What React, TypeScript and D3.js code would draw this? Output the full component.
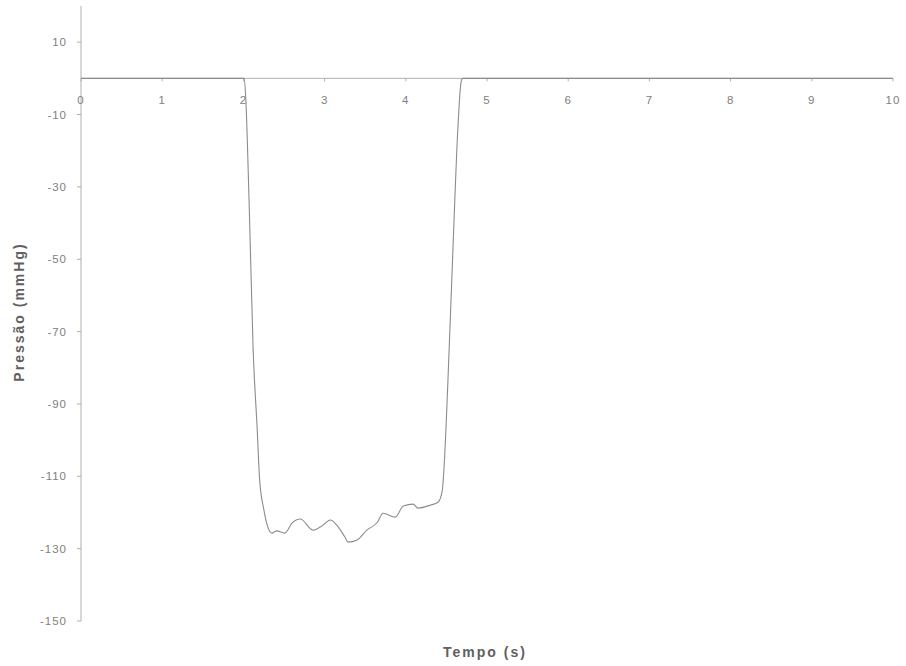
import React from 'react';
import * as d3 from 'd3';

// pressure trace
const tempo = [0, 1, 2, 2.01, 2.03, 2.07, 2.12, 2.17, 2.2, 2.25, 2.3, 2.35, 2.41, 2.51, 2.6, 2.7, 2.86, 2.98, 3.07, 3.15, 3.25, 3.29, 3.4, 3.52, 3.65, 3.72, 3.87, 3.97, 4.09, 4.15, 4.3, 4.4, 4.45, 4.47, 4.52, 4.58, 4.64, 4.68, 4.7, 6, 8, 10];
const pressao = [0, 0, 0, 0, -6, -34, -75, -97, -111, -119, -124, -125.7, -125.1, -125.7, -122.9, -121.8, -124.9, -123.5, -122.1, -123.5, -126.8, -128.2, -127.6, -124.9, -122.7, -120.2, -121.3, -118.2, -117.7, -118.8, -118, -117.1, -113.8, -108, -83, -47.5, -14.4, -1.1, 0, 0, 0, 0];

const xTicks = [0, 1, 2, 3, 4, 5, 6, 7, 8, 9, 10];
const yTicks = [10, -10, -30, -50, -70, -90, -110, -130, -150];

const W = 906;
const H = 666;

export default function App() {
  const x = d3.scaleLinear().domain([0, 10]).range([81, 893]);
  const y = d3.scaleLinear().domain([-150, 20]).range([621, 6]);

  const pts: [number, number][] = tempo.map((t, i) => [t, pressao[i]]);
  const line = d3.line<[number, number]>()
    .x(d => x(d[0]))
    .y(d => y(d[1]))
    .curve(d3.curveMonotoneX);

  const font = '"Liberation Sans", Arial, sans-serif';
  const axisColor = '#b0b0b0';
  const textColor = '#808080';

  return (
    <svg width={W} height={H} style={{ position: 'absolute', left: 0, top: 0 }} fontFamily={font}>
      <rect width={W} height={H} fill="#fff" />

      {/* y axis */}
      <line x1={x(0)} x2={x(0)} y1={y(20)} y2={y(-150)} stroke={axisColor} strokeWidth={1} />
      {yTicks.map(v => (
        <g key={v}>
          <line x1={x(0) - 4} x2={x(0)} y1={y(v)} y2={y(v)} stroke={axisColor} />
          <text x={x(0) - 14} y={y(v)} dy="0.35em" textAnchor="end" fontSize={11.5} letterSpacing={1} fill={textColor}>{v}</text>
        </g>
      ))}

      {/* x axis at zero */}
      <line x1={x(0)} x2={x(10)} y1={y(0)} y2={y(0)} stroke={axisColor} strokeWidth={1} />
      {xTicks.map(v => (
        <g key={v}>
          <line x1={x(v)} x2={x(v)} y1={y(0)} y2={y(0) + 3} stroke={axisColor} />
          <text x={x(v)} y={y(0) + 26} textAnchor="middle" fontSize={11.5} letterSpacing={1} fill={textColor}>{v}</text>
        </g>
      ))}

      <path d={line(pts) || ''} fill="none" stroke="#8c8c8c" strokeWidth={1.1} />

      <text x={485} y={657} textAnchor="middle" fontSize={14} fontWeight="bold" letterSpacing={2} fill="#606060">Tempo (s)</text>
      <text transform={`translate(24,${312}) rotate(-90)`} textAnchor="middle" fontSize={14} fontWeight="bold" letterSpacing={2} fill="#606060">Pressão (mmHg)</text>
    </svg>
  );
}
